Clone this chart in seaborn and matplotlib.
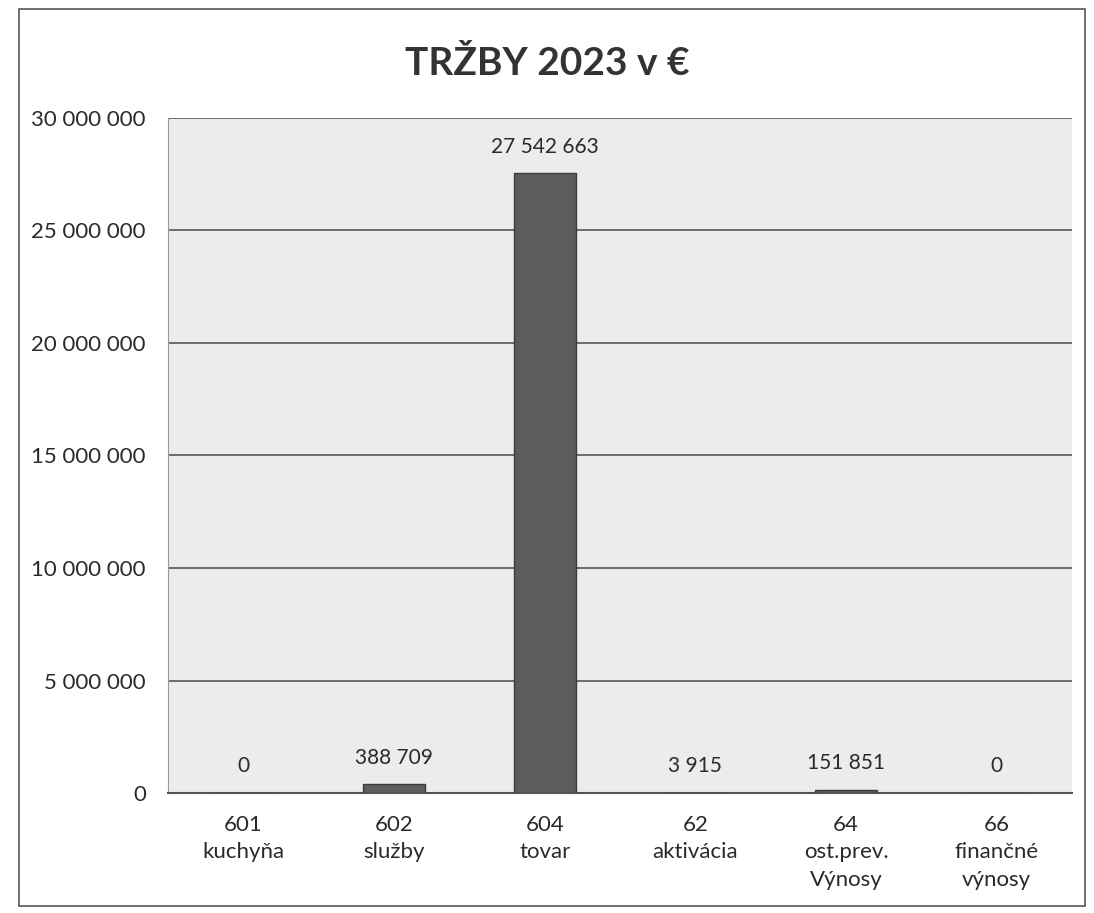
import matplotlib
matplotlib.use("Agg")
import matplotlib.pyplot as plt
import pandas as pd
import seaborn as sns
from matplotlib.ticker import FuncFormatter

# data
categories = ["601\nkuchyňa", "602\nslužby", "604\ntovar", "62\naktivácia",
              "64\nost.prev.\nVýnosy", "66\nfinančné\nvýnosy"]
values = [0, 388709, 27542663, 3915, 151851, 0]
y_ticks = [0, 5000000, 10000000, 15000000, 20000000, 25000000, 30000000]
title = "TRŽBY 2023 v €"


def fmt(v):
    return f"{int(v):,}".replace(",", " ")


def main():
    sns.set_style("white")
    plt.rcParams["font.family"] = ["Lato", "DejaVu Sans"]

    df = pd.DataFrame({"cat": categories, "val": values})

    fig = plt.figure(figsize=(10.94, 9.13), dpi=100)
    ax = fig.add_axes([0.1536, 0.1314, 0.8264, 0.7394])
    ax.set_facecolor("#ececec")

    sns.barplot(data=df, x="cat", y="val", color="#5c5c5c", width=0.41,
                edgecolor="#3c3c3c", linewidth=1, saturation=1, ax=ax, zorder=3)

    ax.set_ylim(0, 30000000)
    ax.set_yticks(y_ticks)
    ax.yaxis.set_major_formatter(FuncFormatter(lambda v, p: fmt(v)))
    ax.grid(axis="y", color="#4a4a4a", linewidth=1.1, zorder=1)
    ax.set_axisbelow(True)
    ax.tick_params(axis="both", length=0, labelsize=16, colors="#2a2a2a")
    ax.tick_params(axis="y", pad=16)
    ax.tick_params(axis="x", pad=16)
    for lbl in ax.get_xticklabels():
        lbl.set_linespacing(1.45)
    ax.set_xlabel("")
    ax.set_ylabel("")

    for s in ["top", "right"]:
        ax.spines[s].set_visible(False)
    ax.spines["left"].set_color("#9a9a9a")
    ax.spines["bottom"].set_color("#555555")
    ax.spines["bottom"].set_linewidth(1.5)

    for i, v in enumerate(values):
        ax.annotate(fmt(v), (i, v), xytext=(0, 12), textcoords="offset points",
                    ha="center", va="bottom", fontsize=15, color="#2a2a2a")

    fig.text(0.5, 0.93, title, ha="center", va="center", fontsize=28,
             fontweight="bold", color="#333333")

    # outer frame of the chart
    frame = plt.Rectangle((0.017, 0.008), 0.975, 0.982, transform=fig.transFigure,
                          fill=False, edgecolor="#555555", linewidth=1.2)
    fig.patches.append(frame)

    fig.savefig("out.png", dpi=100)


if __name__ == "__main__":
    main()
